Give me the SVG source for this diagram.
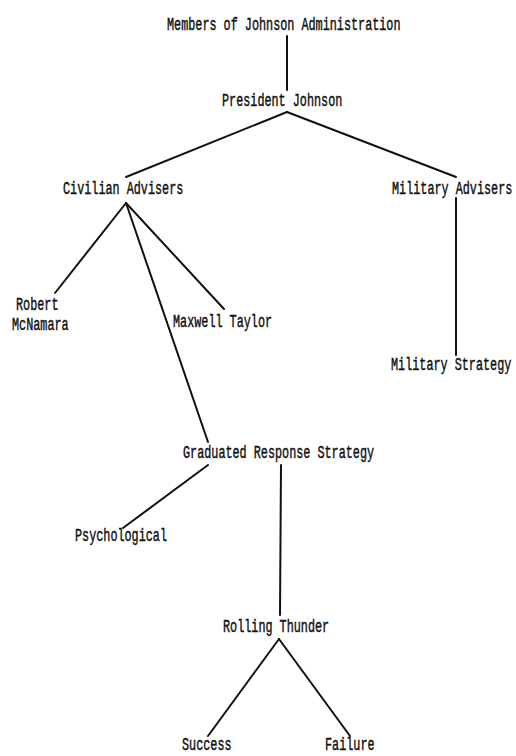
<svg xmlns="http://www.w3.org/2000/svg" width="516" height="756" viewBox="0 0 516 756">
<style>
text{font-family:"Liberation Mono","DejaVu Sans Mono",monospace;font-size:11.8px;fill:#111;stroke:#111;stroke-width:0.3}
.c line{stroke:#111;stroke-width:2;stroke-linecap:round}
</style>
<rect width="516" height="756" fill="#fff"/>
<g class="c" id="connectors">
<line x1="287" y1="36" x2="287" y2="90"/>
<line x1="287" y1="112" x2="126" y2="177"/>
<line x1="287" y1="112" x2="456" y2="177"/>
<line x1="126" y1="203" x2="55" y2="293"/>
<line x1="126" y1="203" x2="224" y2="309"/>
<line x1="126" y1="203" x2="208" y2="442"/>
<line x1="456" y1="198" x2="456" y2="355"/>
<line x1="208" y1="465" x2="123" y2="528"/>
<line x1="281" y1="465" x2="280" y2="615"/>
<line x1="279" y1="639" x2="208" y2="736"/>
<line x1="279" y1="639" x2="350" y2="736"/>
</g>
<g id="n-title"><text transform="translate(167,30) scale(1,1.5)">Members of Johnson Administration</text></g>
<g id="n-president"><text transform="translate(222,106) scale(1,1.5)">President Johnson</text></g>
<g id="n-civilian"><text transform="translate(63,194) scale(1,1.5)">Civilian Advisers</text></g>
<g id="n-military"><text transform="translate(392,194) scale(1,1.5)">Military Advisers</text></g>
<g id="n-mcnamara"><text transform="translate(16,310) scale(1,1.5)">Robert</text><text transform="translate(12,330) scale(1,1.5)">McNamara</text></g>
<g id="n-taylor"><text transform="translate(173,327) scale(1,1.5)">Maxwell Taylor</text></g>
<g id="n-milstrategy"><text transform="translate(391,370) scale(1,1.5)">Military Strategy</text></g>
<g id="n-graduated"><text transform="translate(183,458) scale(1,1.5)">Graduated Response Strategy</text></g>
<g id="n-psych"><text transform="translate(75,541) scale(1,1.5)">Psychological</text></g>
<g id="n-rolling"><text transform="translate(223,632) scale(1,1.5)">Rolling Thunder</text></g>
<g id="n-success"><text transform="translate(182,750) scale(1,1.5)">Success</text></g>
<g id="n-failure"><text transform="translate(325,750) scale(1,1.5)">Failure</text></g>
</svg>
